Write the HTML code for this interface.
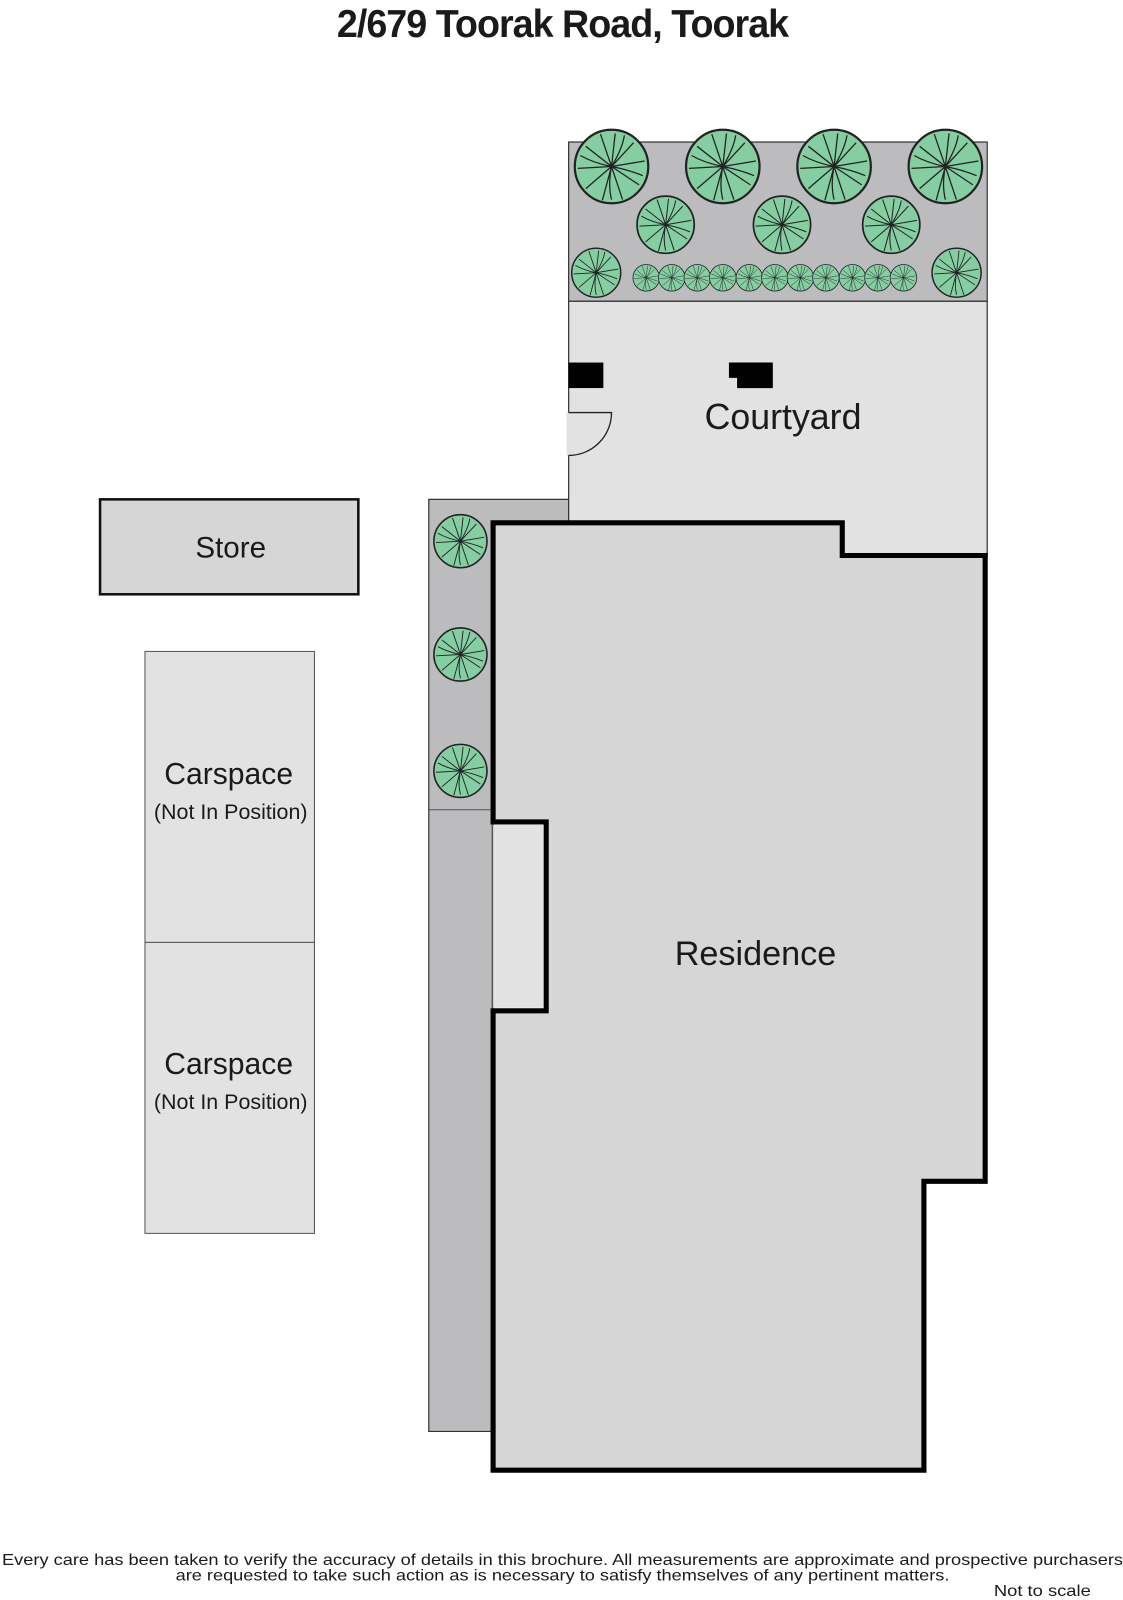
<!DOCTYPE html>
<html><head><meta charset="utf-8"><style>
html,body{margin:0;padding:0;background:#fff;}
svg{display:block;}
text{font-family:"Liberation Sans",sans-serif;fill:#1a1a1a;}
</style></head><body>
<svg width="1123" height="1600" viewBox="0 0 1100 1567" xmlns="http://www.w3.org/2000/svg">
<defs>
<g id="t">
<circle r="1" fill="#84cea2" stroke="#222" stroke-width="0.06"/>
<g stroke="#222" stroke-width="0.035" fill="none">
<path d="M0 0 L0.1 -0.9 M0 0 L0.6 -0.65 M0 0 L0.9 -0.15 M0 0 L0.75 0.5 M0 0 L0.3 0.9 M0 0 L-0.25 0.92 M0 0 L-0.7 0.6 M0 0 L-0.92 0.05 M0 0 L-0.7 -0.55 M0 0 L-0.3 -0.88"/>
<path d="M0 0 Q0.3 -0.5 0.35 -0.85 M0 0 Q0.5 0.1 0.85 0.25 M0 0 Q-0.1 0.5 0 0.9 M0 0 Q-0.5 -0.1 -0.85 -0.3"/>
</g>
</g>
</defs>
<text x="551" y="36" text-anchor="middle" font-size="38" font-weight="bold" textLength="442" lengthAdjust="spacingAndGlyphs" style="letter-spacing:-1px">2/679 Toorak Road, Toorak</text>

<!-- side strip -->
<path d="M420 489 L557 489 L557 512 L483 512 L483 1402 L420 1402 Z" fill="#bcbcbe" stroke="#333" stroke-width="1.2"/>
<line x1="420" y1="793" x2="483" y2="793" stroke="#555" stroke-width="1"/>

<!-- garden -->
<rect x="557" y="139" width="410" height="156" fill="#bcbcbe" stroke="#333" stroke-width="1.2"/>
<!-- courtyard -->
<rect x="557" y="295" width="410" height="250" fill="#e2e2e2" stroke="#333" stroke-width="1.2"/>
<rect x="555" y="404" width="4" height="42" fill="#e2e2e2"/>
<path d="M557 404 L599 404 A42 42 0 0 1 557 446" fill="none" stroke="#222" stroke-width="1.3"/>
<rect x="557" y="355" width="34" height="25" fill="#000"/>
<path d="M714 355 L757 355 L757 380 L722 380 L722 370 L714 370 Z" fill="#000"/>

<!-- residence -->
<path d="M483 512 L825 512 L825 544 L965 544 L965 1157 L905 1157 L905 1440 L483 1440 L483 990 L535 990 L535 805 L483 805 Z" fill="#d6d6d6" stroke="#000" stroke-width="5"/>
<rect x="483" y="808" width="49" height="179" fill="#e2e2e2"/>
<line x1="482" y1="808" x2="482" y2="987" stroke="#666" stroke-width="1"/>

<!-- trees -->
<use href="#t" transform="translate(599,163) scale(36)"/>
<use href="#t" transform="translate(708,163) scale(36)"/>
<use href="#t" transform="translate(817,163) scale(36)"/>
<use href="#t" transform="translate(926,163) scale(36)"/>
<use href="#t" transform="translate(652,220) scale(28)"/>
<use href="#t" transform="translate(766,220) scale(28)"/>
<use href="#t" transform="translate(873,220) scale(28)"/>
<use href="#t" transform="translate(584,267) scale(24)"/>
<use href="#t" transform="translate(937,267) scale(24)"/>
<use href="#t" transform="translate(633,272) scale(13)"/>
<use href="#t" transform="translate(658,272) scale(13)"/>
<use href="#t" transform="translate(683,272) scale(13)"/>
<use href="#t" transform="translate(708,272) scale(13)"/>
<use href="#t" transform="translate(734,272) scale(13)"/>
<use href="#t" transform="translate(759,272) scale(13)"/>
<use href="#t" transform="translate(784,272) scale(13)"/>
<use href="#t" transform="translate(809,272) scale(13)"/>
<use href="#t" transform="translate(835,272) scale(13)"/>
<use href="#t" transform="translate(860,272) scale(13)"/>
<use href="#t" transform="translate(885,272) scale(13)"/>
<use href="#t" transform="translate(451,530) scale(26)"/>
<use href="#t" transform="translate(451,641) scale(26)"/>
<use href="#t" transform="translate(451,755) scale(26)"/>

<rect x="98" y="489" width="253" height="93" fill="#d6d6d6" stroke="#111" stroke-width="2.5"/>
<rect x="142" y="638" width="166" height="285" fill="#e2e2e2" stroke="#555" stroke-width="1"/>
<rect x="142" y="923" width="166" height="285" fill="#e2e2e2" stroke="#555" stroke-width="1"/>

<text x="226" y="546" text-anchor="middle" font-size="29">Store</text>
<text x="224" y="768" text-anchor="middle" font-size="29.5">Carspace</text>
<text x="226" y="802" text-anchor="middle" font-size="21">(Not In Position)</text>
<text x="224" y="1052" text-anchor="middle" font-size="29.5">Carspace</text>
<text x="226" y="1086" text-anchor="middle" font-size="21">(Not In Position)</text>
<text x="767" y="420" text-anchor="middle" font-size="35">Courtyard</text>
<text x="740" y="945" text-anchor="middle" font-size="33.5">Residence</text>

<text x="551" y="1533" text-anchor="middle" font-size="15" textLength="1098" lengthAdjust="spacingAndGlyphs">Every care has been taken to verify the accuracy of details in this brochure.  All measurements are approximate and prospective purchasers</text>
<text x="551" y="1548" text-anchor="middle" font-size="15" textLength="758" lengthAdjust="spacingAndGlyphs">are requested to take such action as is necessary to satisfy themselves of any pertinent matters.</text>
<text x="1021" y="1563" text-anchor="middle" font-size="15" textLength="95" lengthAdjust="spacingAndGlyphs">Not to scale</text>
</svg>
</body></html>
